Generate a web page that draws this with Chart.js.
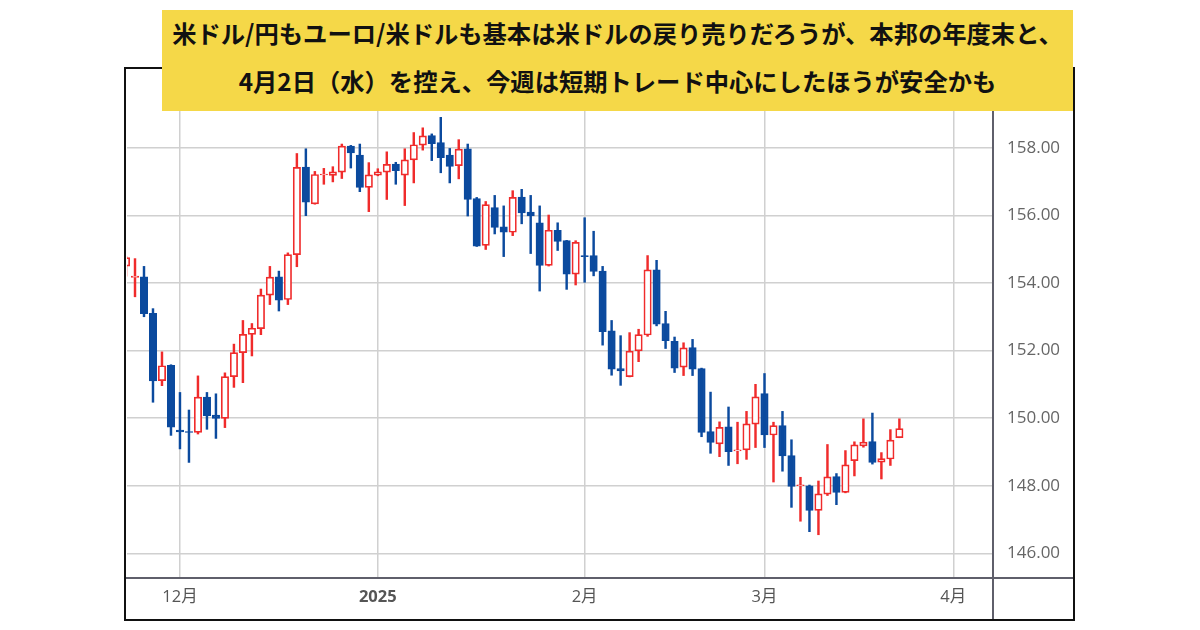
<!DOCTYPE html>
<html lang="ja">
<head>
<meta charset="utf-8">
<script src="https://cdn.jsdelivr.net/npm/chart.js@4"></script>
<style>
    html, body { margin: 0; padding: 0; background: #fff; }
    #wrap { position: relative; width: 1200px; height: 630px; overflow: hidden; }
    canvas { position: absolute; left: 0; top: 0; }
    #frame { position: absolute; left: 124px; top: 67px; width: 947px; height: 550px; border: 2px solid #111; }
    #banner {
        position: absolute; left: 162px; top: 10px; width: 911px; height: 101px;
        background: #f5d848; color: #111; text-align: center; white-space: nowrap;
        font-family: "Noto Sans CJK JP"; font-weight: 700; font-size: 24.3px; line-height: 48px; margin-top: 0;
        box-sizing: border-box;
    }
    #banner span { position: relative; top: -1px; }
</style>
</head>
<body>
<div id="wrap">
    <canvas id="chart" width="1200" height="630"></canvas>
    <div id="frame"></div>
    <div id="banner"><span>米ドル/円もユーロ/米ドルも基本は米ドルの戻り売りだろうが、本邦の年度末と、<br>4月2日（水）を控え、今週は短期トレード中心にしたほうが安全かも</span></div>
</div>
<script>
// trading day number, counted from the first session of December
var firstDay = -6;
var opens = [154.5, 154.16, 154.18, 153.1, 151.11, 151.56, 149.65, 149.6, 149.58, 150.62, 150.09, 149.99, 151.23, 151.94, 152.48, 152.65, 153.64, 154.18, 153.51, 154.84, 157.43, 156.34, 157.2, 157.18, 157.28, 158.05, 157.78, 156.83, 157.19, 157.28, 157.52, 157.19, 157.64, 158.08, 158.36, 158.15, 157.78, 157.47, 157.97, 156.5, 155.11, 156.23, 155.66, 155.5, 156.54, 156.1, 155.78, 154.52, 155.56, 155.25, 154.26, 154.81, 154.81, 154.35, 152.58, 151.47, 151.23, 151.99, 152.46, 154.39, 152.8, 152.27, 151.51, 152.09, 151.47, 149.6, 149.24, 149.74, 149.03, 149.06, 149.82, 150.73, 149.5, 149.78, 148.89, 148.0, 148.0, 147.27, 147.75, 148.27, 147.8, 148.74, 149.18, 149.31, 148.7, 148.79, 149.42];
var closes = [154.75, 154.2, 153.09, 151.1, 151.55, 149.73, 149.59, 149.58, 150.62, 150.07, 149.99, 151.23, 151.94, 152.48, 152.66, 153.64, 154.17, 153.49, 154.84, 157.42, 156.39, 157.21, 157.22, 157.29, 158.05, 157.85, 156.83, 157.2, 157.29, 157.51, 157.32, 157.64, 158.09, 158.35, 158.12, 157.71, 157.45, 157.96, 156.47, 155.09, 156.32, 155.64, 155.5, 156.53, 156.07, 155.98, 154.52, 155.56, 155.23, 154.26, 155.2, 154.78, 154.34, 152.56, 151.45, 151.4, 151.98, 152.47, 154.39, 152.78, 152.29, 151.48, 152.08, 151.45, 149.58, 149.28, 149.73, 149.01, 149.06, 149.83, 150.63, 149.5, 149.78, 148.88, 147.98, 148.03, 147.27, 147.76, 148.26, 147.8, 148.62, 149.21, 149.29, 148.69, 148.8, 149.35, 149.69];
var highs = [154.78, 154.72, 154.49, 153.24, 151.96, 151.58, 150.76, 150.24, 151.25, 150.76, 150.72, 151.34, 152.19, 152.89, 152.8, 153.82, 154.49, 154.35, 154.89, 157.83, 157.97, 157.3, 157.39, 157.44, 158.11, 158.07, 158.11, 157.56, 157.38, 157.88, 157.57, 157.97, 158.45, 158.59, 158.41, 158.9, 157.98, 158.24, 158.11, 156.53, 156.41, 156.59, 156.28, 156.73, 156.77, 156.59, 156.28, 156.01, 155.78, 155.26, 155.25, 155.93, 155.53, 154.49, 152.89, 152.44, 152.53, 152.63, 154.81, 154.67, 153.16, 152.4, 152.23, 152.33, 151.48, 150.77, 149.89, 150.33, 149.88, 150.2, 151.0, 151.32, 149.88, 150.2, 149.36, 148.25, 148.02, 148.14, 149.22, 148.36, 149.04, 149.3, 149.98, 150.15, 148.98, 149.66, 149.98];
var lows = [154.2, 153.59, 153.0, 150.47, 150.96, 149.49, 149.09, 148.69, 149.53, 149.67, 149.4, 149.72, 150.91, 151.05, 151.84, 152.47, 153.36, 153.17, 153.36, 154.48, 155.99, 156.33, 156.92, 156.99, 157.09, 157.4, 156.7, 156.11, 157.17, 156.47, 156.92, 156.29, 156.96, 157.93, 157.62, 157.26, 156.96, 157.08, 155.98, 155.08, 154.99, 155.45, 154.78, 155.4, 155.75, 154.87, 153.76, 154.5, 154.96, 153.81, 153.94, 154.02, 154.21, 152.16, 151.27, 150.97, 151.22, 151.67, 152.42, 152.73, 152.06, 151.35, 151.26, 151.26, 149.45, 148.96, 148.86, 148.6, 148.65, 148.78, 149.13, 149.13, 148.11, 148.43, 147.36, 146.95, 146.64, 146.55, 147.71, 147.44, 147.79, 148.29, 149.14, 148.64, 148.2, 148.6, 149.42];

var monthLabels = ['12月', '2025', '2月', '3月', '4月'];
var monthDays = [0, 22, 45, 65, 86];
var priceTicks = [146, 148, 150, 152, 154, 156, 158];

var upColor = '#f02b2b';
var downColor = '#0b4a9e';
var gridColor = '#d0d0d0';
var axisColor = '#5f5f6b';

var days = opens.map((o, i) => firstDay + i);
var isUp = (i) => closes[i] >= opens[i];

// the two axis lines run on past the plot, up to the outer frame
var axisExtend = {
    id: 'axisExtend',
    afterDraw(chart) {
        var g = chart.ctx, area = chart.chartArea;
        g.save();
        g.strokeStyle = axisColor;
        g.lineWidth = 2;
        g.beginPath();
        g.moveTo(area.right, area.bottom);
        g.lineTo(chart.width - 126, area.bottom);
        g.moveTo(area.right, area.bottom);
        g.lineTo(area.right, chart.height - 10);
        g.stroke();
        g.restore();
    }
};

var ctx = document.getElementById('chart').getContext('2d');

var myChart = new Chart(ctx, {
    type: 'bar',
    plugins: [axisExtend],
    data: {
        datasets: [
            {
                // bodies, drawn over the wicks
                label: 'body',
                order: 1,
                data: days.map((d, i) => ({ x: d, y: [opens[i], closes[i]] })),
                backgroundColor: (c) => isUp(c.dataIndex) ? '#ffffff' : downColor,
                borderColor: (c) => isUp(c.dataIndex) ? upColor : downColor,
                borderWidth: 1.7,
                borderSkipped: false,
                barThickness: 7.4,
                grouped: false
            },
            {
                label: 'wick',
                order: 2,
                data: days.map((d, i) => ({ x: d, y: [lows[i], highs[i]] })),
                backgroundColor: (c) => isUp(c.dataIndex) ? upColor : downColor,
                borderWidth: 0,
                barThickness: 1.8,
                grouped: false
            }
        ]
    },
    options: {
        responsive: false,
        animation: false,
        layout: { padding: { left: 127, top: 68, right: 125, bottom: 11 } },
        plugins: {
            legend: { display: false },
            tooltip: { enabled: false }
        },
        scales: {
            x: {
                type: 'linear',
                min: -5.89,
                max: 90.41,
                offset: false,
                grid: { offset: false, color: gridColor, lineWidth: 1.5, drawTicks: false },
                border: { color: axisColor, width: 2 },
                afterBuildTicks: (scale) => { scale.ticks = monthDays.map(v => ({ value: v })); },
                afterFit: (scale) => { scale.height = 41; },
                ticks: {
                    autoSkip: false,
                    maxRotation: 0,
                    padding: 9,
                    color: '#555',
                    font: (c) => ({
                        family: '"Open Sans", "Noto Sans CJK JP"',
                        size: 16.5,
                        weight: c.tick && c.tick.value === 22 ? '700' : '400'
                    }),
                    callback: (value) => monthLabels[monthDays.indexOf(value)]
                }
            },
            y: {
                position: 'right',
                min: 145.27,
                max: 160.36,
                grid: { color: gridColor, lineWidth: 1.5, drawTicks: false },
                border: { color: axisColor, width: 2 },
                afterBuildTicks: (scale) => { scale.ticks = priceTicks.map(v => ({ value: v })); },
                afterFit: (scale) => { scale.width = 82; },
                ticks: {
                    padding: 14,
                    color: '#666',
                    font: { family: '"Open Sans"', size: 17 },
                    callback: (value) => value.toFixed(2)
                }
            }
        }
    }
});
</script>
</body>
</html>
